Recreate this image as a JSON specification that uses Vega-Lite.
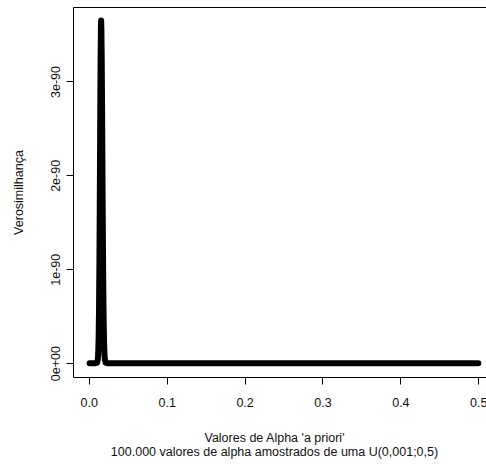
{
  "$schema": "https://vega.github.io/schema/vega-lite/v6.json",
  "width": 414,
  "height": 370,
  "autosize": {"type": "none"},
  "padding": {"left": 73, "top": 7, "right": 0, "bottom": 87},
  "background": "white",
  "config": {
    "view": {"stroke": "black", "strokeWidth": 1},
    "font": "Liberation Sans",
    "axis": {
      "grid": false,
      "domain": false,
      "tickColor": "black",
      "tickSize": 7,
      "labelColor": "#111",
      "labelFont": "Liberation Sans",
      "labelFontSize": 12.5,
      "titleFont": "Liberation Sans",
      "titleFontSize": 12.5,
      "titleFontWeight": "normal",
      "titleColor": "#111"
    }
  },
  "data": {
    "values": [
      {"alpha": 0.001, "verossimilhanca": 0},
      {"alpha": 0.0086, "verossimilhanca": 0},
      {"alpha": 0.0106, "verossimilhanca": 0.0037e-90},
      {"alpha": 0.0116, "verossimilhanca": 0.04e-90},
      {"alpha": 0.0121, "verossimilhanca": 0.111e-90},
      {"alpha": 0.0126, "verossimilhanca": 0.267e-90},
      {"alpha": 0.0131, "verossimilhanca": 0.566e-90},
      {"alpha": 0.0136, "verossimilhanca": 1.06e-90},
      {"alpha": 0.0141, "verossimilhanca": 1.742e-90},
      {"alpha": 0.0146, "verossimilhanca": 2.52e-90},
      {"alpha": 0.0151, "verossimilhanca": 3.212e-90},
      {"alpha": 0.0156, "verossimilhanca": 3.603e-90},
      {"alpha": 0.0158, "verossimilhanca": 3.65e-90},
      {"alpha": 0.0161, "verossimilhanca": 3.577e-90},
      {"alpha": 0.0166, "verossimilhanca": 3.212e-90},
      {"alpha": 0.0171, "verossimilhanca": 2.617e-90},
      {"alpha": 0.0176, "verossimilhanca": 1.933e-90},
      {"alpha": 0.0181, "verossimilhanca": 1.296e-90},
      {"alpha": 0.0186, "verossimilhanca": 0.787e-90},
      {"alpha": 0.0191, "verossimilhanca": 0.434e-90},
      {"alpha": 0.0196, "verossimilhanca": 0.217e-90},
      {"alpha": 0.0201, "verossimilhanca": 0.098e-90},
      {"alpha": 0.0206, "verossimilhanca": 0.04e-90},
      {"alpha": 0.0216, "verossimilhanca": 0.005e-90},
      {"alpha": 0.0236, "verossimilhanca": 0},
      {"alpha": 0.1, "verossimilhanca": 0},
      {"alpha": 0.25, "verossimilhanca": 0},
      {"alpha": 0.5, "verossimilhanca": 0}
    ]
  },
  "mark": {
    "type": "line",
    "color": "black",
    "strokeWidth": 6,
    "strokeCap": "round",
    "strokeJoin": "round",
    "clip": true
  },
  "encoding": {
    "x": {
      "field": "alpha",
      "type": "quantitative",
      "sort": null,
      "scale": {"domain": [-0.0203, 0.5112], "nice": false, "zero": false},
      "axis": {
        "values": [0, 0.1, 0.2, 0.3, 0.4, 0.5],
        "format": ".1f",
        "labelPadding": 12,
        "labelFlush": false,
        "labelOverlap": false,
        "title": ["Valores de Alpha 'a priori'", "100.000 valores de alpha amostrados de uma U(0,001;0,5)"],
        "titleX": 201,
        "titleY": 54,
        "titleAnchor": null,
        "titleAlign": "center",
        "titleBaseline": "top",
        "titleLineHeight": 14
      }
    },
    "y": {
      "field": "verossimilhanca",
      "type": "quantitative",
      "scale": {"domain": [-0.147e-90, 3.793e-90], "nice": false, "zero": false},
      "axis": {
        "values": [0, 1e-90, 2e-90, 3e-90],
        "labelExpr": "datum.value == 0 ? '0e+00' : format(datum.value, '.0e')",
        "labelAngle": -90,
        "labelAlign": "center",
        "labelBaseline": "bottom",
        "labelPadding": 4,
        "labelFlush": false,
        "labelOverlap": false,
        "title": "Verosimilhança",
        "titleX": -55,
        "titleY": 185,
        "titleAngle": -90,
        "titleAlign": "center",
        "titleBaseline": "middle"
      }
    }
  }
}
